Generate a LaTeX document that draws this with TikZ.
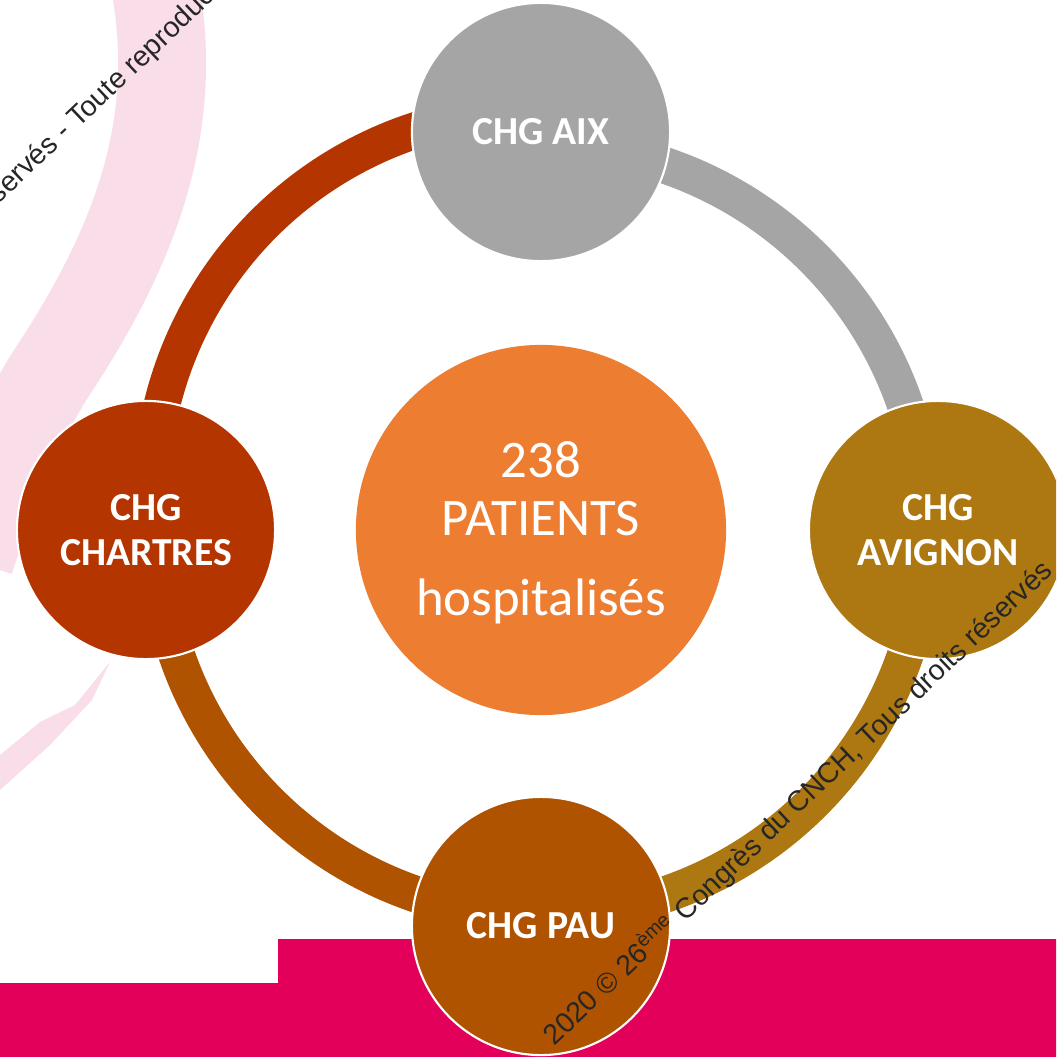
\documentclass[tikz,border=0pt]{standalone}
\usepackage{fontspec}
\setmainfont{Carlito}
\newfontfamily\wmfont{Liberation Sans}
\definecolor{aix}{HTML}{A5A5A5}
\definecolor{avignon}{HTML}{AD7811}
\definecolor{pau}{HTML}{AF5300}
\definecolor{chartres}{HTML}{B43500}
\definecolor{centre}{HTML}{ED7D31}
\definecolor{bandeau}{HTML}{E3005A}
\definecolor{rose}{HTML}{F9DDE8}
\tikzset{
  site/.style={circle, draw=white, line width=0.6pt, minimum size=2.58cm, inner sep=0pt,
    text=white, align=center, font=\bfseries\fontsize{11.3}{12.8}\selectfont},
  ring/.style={line width=10.4pt},
  total/.style={text=white, anchor=base, inner sep=0pt, font=\fontsize{15}{16.5}\selectfont},
  wm/.style={font=\wmfont\fontsize{8.1}{9.6}\selectfont, text=black!85, anchor=base west,
    rotate=43.5, inner sep=0pt}
}

\begin{document}
\begin{tikzpicture}[x=0.01cm, y=-0.01cm]
    \useasboundingbox (0,0) rectangle (1056,1057);
    \clip (0,0) rectangle (1056,1057);
    \coordinate (O) at (541,530);
    \coordinate (Q) at (536,496);
    \draw[rose, line width=25pt] (150,-40) .. controls (182,100) and (150,220) .. (60,360)
        .. controls (20,420) and (0,470) .. (-30,560);
    \fill[rose] (0,790) -- (0,755) -- (40,722) -- (75,705) -- (110,662) -- (92,700) -- (50,745) -- cycle;
    \fill[bandeau] (0,983) -- (278,983) -- (278,939) -- (1056,939) -- (1056,1057) -- (0,1057) -- cycle;
    \draw[ring, aix] (O) ++(-90:385) arc[start angle=-90, end angle=0, radius=385];
    \draw[ring, avignon] (O) ++(0:385) arc[start angle=0, end angle=90, radius=385];
    \draw[ring, pau] (O) ++(90:385) arc[start angle=90, end angle=180, radius=385];
    \draw[ring, chartres] (Q) ++(175:385) arc[start angle=175, end angle=270.8, radius=385];
    \node[circle, fill=centre, minimum size=3.7cm, inner sep=0pt] (ctr) at (O) {};
    \node[total] (nb) at (541,477) {238};
    \node[total] (pat) at (541,535) {PATIENTS};
    \node[total] (hosp) at (541,615) {hospitalisés};
    \node[site, fill=aix] (aix) at (541,132) {CHG AIX};
    \node[site, fill=avignon] (avignon) at (938,530) {CHG\\AVIGNON};
    \node[site, fill=pau] (pau) at (541,926) {CHG PAU};
    \node[site, fill=chartres] (chartres) at (146,530) {CHG\\CHARTRES};
    \node[wm] (wma) at (554,1047) {2020 © 26\textsuperscript{ème} Congrès du CNCH, Tous droits réservés};
    \node[wm] (wmb) at (-20,222) {réservés - Toute reproduction};
\end{tikzpicture}
\end{document}
